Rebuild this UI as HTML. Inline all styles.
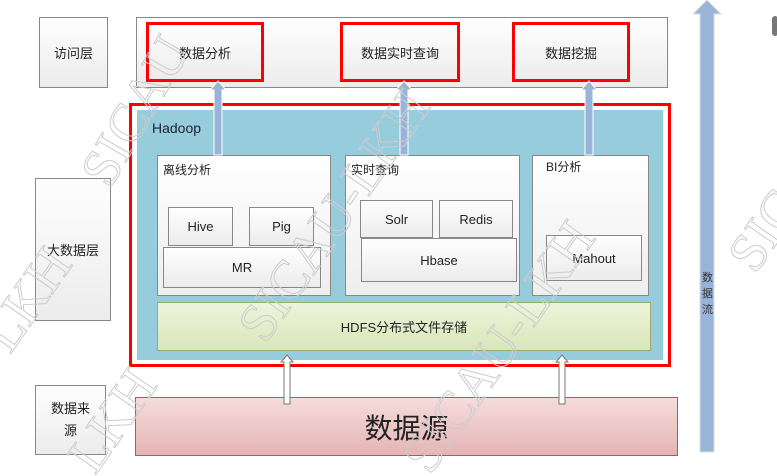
<!DOCTYPE html>
<html style="height:476px;overflow:hidden"><head><meta charset="utf-8"><style>
body{margin:0;width:777px;height:476px;background:#fff;position:relative;overflow:hidden;font-family:"Liberation Sans","Noto Sans CJK SC",sans-serif;color:#222}
div{position:absolute;box-sizing:border-box}
.g{border:1px solid #888;background:linear-gradient(#fefefe,#ececec);display:flex;align-items:center;justify-content:center;font-size:13px;text-align:center}
.red{border:3px solid #f00}
.w{border:1px solid #888;background:linear-gradient(#fff,#eee)}
.lab{font-size:12px}
</style></head><body>
<div class="g" style="left:39px;top:17px;width:69px;height:71px">访问层</div>
<div class="g" style="left:35px;top:178px;width:76px;height:143px">大数据层</div>
<div class="g" style="left:35px;top:385px;width:71px;height:70px;line-height:22px">数据来<br>源</div>
<div class="g" style="left:136px;top:17px;width:532px;height:71px"></div>
<div class="g red" style="left:146px;top:22px;width:118px;height:60px">数据分析</div>
<div class="g red" style="left:340px;top:22px;width:120px;height:60px">数据实时查询</div>
<div class="g red" style="left:512px;top:22px;width:118px;height:60px">数据挖掘</div>
<div class="red" style="left:129px;top:103px;width:542px;height:264px;background:#fff"></div>
<div style="left:137px;top:110px;width:526px;height:250px;background:#96ccdc"></div>
<div style="left:152px;top:120px;font-size:14px;color:#223">Hadoop</div>
<div class="w" style="left:157px;top:155px;width:174px;height:141px"></div>
<div class="lab" style="left:163px;top:161px">离线分析</div>
<div class="w" style="left:345px;top:155px;width:175px;height:141px"></div>
<div class="lab" style="left:351px;top:161px">实时查询</div>
<div class="w" style="left:532px;top:155px;width:117px;height:141px"></div>
<div class="lab" style="left:546px;top:158px">BI分析</div>
<div class="g" style="left:168px;top:207px;width:65px;height:39px">Hive</div>
<div class="g" style="left:249px;top:207px;width:65px;height:39px">Pig</div>
<div class="g" style="left:163px;top:247px;width:158px;height:41px">MR</div>
<div class="g" style="left:360px;top:200px;width:73px;height:38px">Solr</div>
<div class="g" style="left:439px;top:200px;width:74px;height:38px">Redis</div>
<div class="g" style="left:361px;top:238px;width:156px;height:44px">Hbase</div>
<div class="g" style="left:546px;top:235px;width:96px;height:46px">Mahout</div>
<div class="g" style="left:157px;top:302px;width:494px;height:49px;background:linear-gradient(#eef4dc,#d9e6b8);border-color:#9aaa70">HDFS分布式文件存储</div>
<div class="g" style="left:135px;top:397px;width:543px;height:59px;background:linear-gradient(#f6dcdc,#e4b4b4);border-color:#a06060;font-size:28px">数据源</div>
<div style="left:0;top:0;width:777px;height:476px;overflow:hidden">
<svg width="777" height="476" style="position:absolute;left:0;top:0;overflow:hidden">
<g fill="#98b4d8" stroke="#fff" stroke-width="1">
<path d="M214 155V90H210L218 81L226 90H222V155Z"/>
<path d="M400 155V90H396L404 81L412 90H408V155Z"/>
<path d="M585 155V90H581L589 81L597 90H593V155Z"/>
<path d="M700 452V14H693L707 0L721 14H714V452Z" stroke="#ddd"/>
</g>
<g fill="#fff" stroke="#777" stroke-width="1">
<path d="M284 404V362H281L287 355L293 362H290V404Z"/>
<path d="M559 404V362H556L562 355L568 362H565V404Z"/>
</g>
<rect x="772" y="16" width="6" height="20" rx="3" fill="#777"/>
<g font-family="Liberation Serif,serif" font-size="54" fill="none" stroke="#ccc" stroke-width="1">
<text transform="translate(110,190) rotate(-60)">SICAU</text>
<text transform="translate(10,355) rotate(-55)">LKH</text>
<text transform="translate(265,345) rotate(-55)">SICAU-LKH</text>
<text transform="translate(95,476) rotate(-55)">LKH</text>
<text transform="translate(430,476) rotate(-55)">SICAU-LKH</text>
<text transform="translate(755,275) rotate(-55)">SIC</text>
</g>
</svg>
</div>
<div style="left:702px;top:270px;font-size:11px;line-height:16px;width:12px;color:#333">数据流</div>
</body></html>
